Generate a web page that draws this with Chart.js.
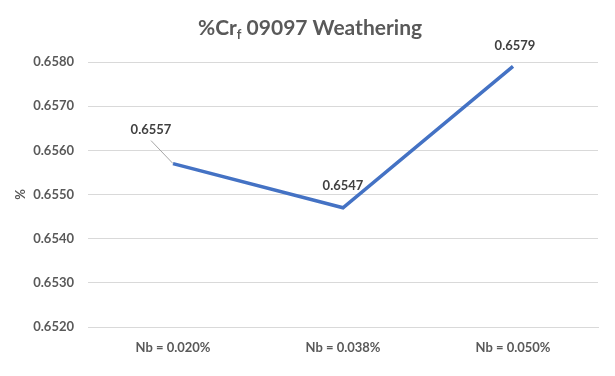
<!DOCTYPE html>
<html>
<head>
<meta charset="utf-8">
<script src="https://cdn.jsdelivr.net/npm/chart.js@4"></script>
<style>
  html, body { margin: 0; padding: 0; background: #fff; }
  #wrap { width: 615px; height: 376px; position: relative; }
</style>
</head>
<body>
<div id="wrap"><canvas id="chart1"></canvas></div>
<script>
const categories = ['Nb = 0.020%', 'Nb = 0.038%', 'Nb = 0.050%'];
const crValues = [0.6557, 0.6547, 0.6579];
const yMin = 0.652;
const yMax = 0.658;
const yStep = 0.001;

const FONT = "Lato, 'Open Sans', sans-serif";
const GREY = '#595959';

// title with subscript f, drawn as real text
const titlePlugin = {
    id: 'subTitle',
    afterDraw(chart) {
        const ctx = chart.ctx;
        ctx.save();
        ctx.fillStyle = GREY;
        ctx.textBaseline = 'alphabetic';
        const big = 'bold 21px ' + FONT;
        const small = 'bold 13px ' + FONT;
        const parts = [['%Cr', big, 0], ['f', small, 4], [' 09097 Weathering', big, 0]];
        let total = 0;
        parts.forEach(p => { ctx.font = p[1]; total += ctx.measureText(p[0]).width; });
        let x = 310 - total / 2;
        const y = 35;
        parts.forEach(p => {
            ctx.font = p[1];
            ctx.fillText(p[0], x, y + p[2]);
            x += ctx.measureText(p[0]).width;
        });
        ctx.restore();
    }
};

// value labels, first one with a leader line
const labelPlugin = {
    id: 'valLabels',
    afterDatasetsDraw(chart) {
        const ctx = chart.ctx;
        const pts = chart.getDatasetMeta(0).data;
        const offs = [[-22, -34], [0, -22], [2, -21]];
        ctx.save();
        ctx.font = 'bold 13px ' + FONT;
        ctx.fillStyle = '#404040';
        ctx.textAlign = 'center';
        ctx.textBaseline = 'middle';
        pts.forEach((p, i) => {
            const lx = p.x + offs[i][0];
            const ly = p.y + offs[i][1];
            if (i === 0) {
                ctx.strokeStyle = '#a6a6a6';
                ctx.lineWidth = 1;
                ctx.beginPath();
                ctx.moveTo(lx, ly + 11);
                ctx.lineTo(p.x, p.y);
                ctx.stroke();
            }
            ctx.fillText(crValues[i].toFixed(4), lx, ly);
        });
        ctx.restore();
    }
};

new Chart(document.getElementById('chart1'), {
    type: 'line',
    data: {
        labels: categories,
        datasets: [{
            label: '%Cr',
            data: crValues,
            borderColor: '#4472C4',
            borderWidth: 3.5,
            pointRadius: 0,
            tension: 0,
            fill: false
        }]
    },
    options: {
        responsive: true,
        maintainAspectRatio: false,
        animation: false,
        layout: { padding: { left: 0, right: 17, top: 62, bottom: 0 } },
        plugins: {
            legend: { display: false },
            tooltip: { enabled: false },
            title: { display: false }
        },
        scales: {
            x: {
                offset: true,
                grid: { display: false, drawTicks: false },
                border: { color: '#d9d9d9', width: 1 },
                ticks: { color: GREY, font: { family: FONT, size: 13, weight: 'bold' }, padding: 13 },
                afterFit: s => { s.height = 49; }
            },
            y: {
                min: yMin,
                max: yMax,
                grid: { color: '#d9d9d9', drawTicks: false },
                border: { display: false },
                ticks: {
                    stepSize: yStep,
                    color: GREY,
                    padding: 14,
                    font: { family: FONT, size: 13, weight: 'bold' },
                    callback: v => v.toFixed(4)
                },
                title: { display: true, text: '%', color: GREY, font: { family: FONT, size: 13, weight: 'bold' }, padding: 13 },
                afterFit: s => { s.width = 88; }
            }
        }
    },
    plugins: [titlePlugin, labelPlugin]
});
</script>
</body>
</html>
